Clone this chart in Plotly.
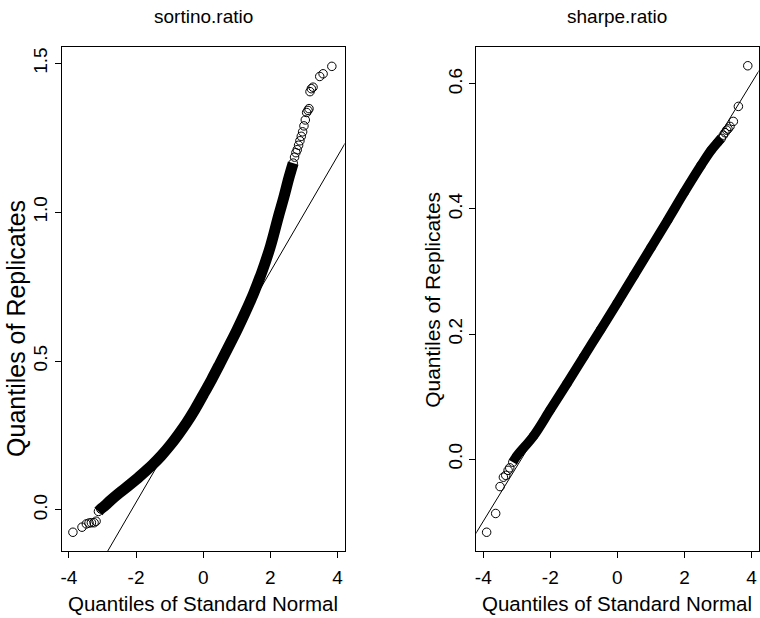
import plotly.graph_objects as go
from plotly.subplots import make_subplots

# ---------------- data ----------------
panel_titles = ["sortino.ratio", "sharpe.ratio"]
x_label = "Quantiles of Standard Normal"
y_label = "Quantiles of Replicates"

x_tick_vals = [-4, -2, 0, 2, 4]
x_tick_text = ["-4", "-2", "0", "2", "4"]
sortino_y_ticks = [0.0, 0.5, 1.0, 1.5]
sortino_y_text = ["0.0", "0.5", "1.0", "1.5"]
sharpe_y_ticks = [0.0, 0.2, 0.4, 0.6]
sharpe_y_text = ["0.0", "0.2", "0.4", "0.6"]

# sortino.ratio : sparse lower tail, dense body, sparse upper tail
sortino_low_x = [-3.88, -3.61, -3.48, -3.40, -3.33, -3.25, -3.19]
sortino_low_y = [-0.075, -0.058, -0.047, -0.044, -0.043, -0.043, -0.038]
sortino_band_x = [-3.12, -3.05, -2.9, -2.75, -2.5, -2.25, -2.0, -1.75, -1.5, -1.25,
                  -1.0, -0.75, -0.5, -0.25, 0.0, 0.25, 0.5, 0.75, 1.0, 1.25,
                  1.5, 1.75, 2.0, 2.25, 2.4, 2.55, 2.68]
sortino_band_y = [-0.005, 0.003, 0.017, 0.033, 0.057, 0.079, 0.102, 0.127, 0.153, 0.182,
                  0.215, 0.252, 0.292, 0.337, 0.387, 0.438, 0.492, 0.547, 0.603, 0.663,
                  0.727, 0.800, 0.885, 0.99, 1.05, 1.115, 1.165]
sortino_high_x = [2.72, 2.76, 2.80, 2.84, 2.88, 2.92, 2.96, 3.00, 3.04, 3.08,
                  3.12, 3.15, 3.18, 3.22, 3.27, 3.47, 3.57, 3.83]
sortino_high_y = [1.185, 1.20, 1.21, 1.225, 1.24, 1.255, 1.27, 1.29, 1.31, 1.335,
                  1.342, 1.348, 1.405, 1.415, 1.42, 1.456, 1.465, 1.49]
sortino_qqline = (0.413, 0.1938)   # intercept, slope

# sharpe.ratio
sharpe_low_x = [-3.90, -3.63, -3.50, -3.40, -3.33, -3.26, -3.21]
sharpe_low_y = [-0.117, -0.087, -0.044, -0.029, -0.026, -0.018, -0.014]
sharpe_band_x = [-3.12, -3.0, -2.5, -2.0, -1.5, -1.0, -0.5, 0.0, 0.5, 1.0,
                 1.5, 2.0, 2.5, 2.8, 3.0, 3.1]
sharpe_band_y = [-0.005, 0.005, 0.037, 0.079, 0.121, 0.164, 0.207, 0.25, 0.294, 0.338,
                 0.382, 0.427, 0.47, 0.494, 0.507, 0.513]
sharpe_high_x = [3.16, 3.21, 3.26, 3.30, 3.36, 3.46, 3.61, 3.89]
sharpe_high_y = [0.518, 0.522, 0.526, 0.528, 0.532, 0.540, 0.564, 0.629]
sharpe_qqline = (0.251, 0.0876)

x_range = [-4.21, 4.21]
sortino_y_range = [-0.138, 1.555]
sharpe_y_range = [-0.147, 0.659]

# ---------------- figure ----------------
W, H = 760, 618
FONT = "Liberation Sans, Arial, sans-serif"

fig = make_subplots(rows=1, cols=2)

marker = dict(symbol="circle-open", size=8.5, color="black", line=dict(width=1, color="black"))

panels = [
    (1, sortino_low_x, sortino_low_y, sortino_band_x, sortino_band_y,
     sortino_high_x, sortino_high_y, sortino_qqline, 11),
    (2, sharpe_low_x, sharpe_low_y, sharpe_band_x, sharpe_band_y,
     sharpe_high_x, sharpe_high_y, sharpe_qqline, 9.5),
]
for col, lx, ly, bx, by, hx, hy, (a, b), bw in panels:
    fig.add_trace(go.Scatter(x=bx, y=by, mode="lines+markers",
                             line=dict(color="black", width=bw, shape="spline", smoothing=1.0),
                             marker=marker, showlegend=False, hoverinfo="skip"), row=1, col=col)
    fig.add_trace(go.Scatter(x=lx + hx, y=ly + hy, mode="markers", marker=marker,
                             showlegend=False), row=1, col=col)
    lxs = [x_range[0] - 0.5, x_range[1] + 0.5]
    fig.add_trace(go.Scatter(x=lxs, y=[a + b * v for v in lxs], mode="lines",
                             line=dict(color="black", width=1),
                             showlegend=False, hoverinfo="skip"), row=1, col=col)

ytop = 1 - 47 / H
ybot = 1 - 551 / H
axis_common = dict(showline=True, mirror=True, linecolor="black", linewidth=1.2,
                   ticks="outside", ticklen=6, tickwidth=1, tickcolor="black",
                   showgrid=False, zeroline=False,
                   tickfont=dict(family=FONT, size=19, color="black"))

fig.update_layout(
    xaxis=dict(domain=[61 / W, 344.5 / W], range=x_range, tickvals=x_tick_vals,
               ticktext=x_tick_text, ticklabelstandoff=3, **axis_common),
    xaxis2=dict(domain=[476.5 / W, 759.5 / W], range=x_range, tickvals=x_tick_vals,
                ticktext=x_tick_text, ticklabelstandoff=3, **axis_common),
    yaxis=dict(domain=[ybot, ytop], range=sortino_y_range, tickvals=sortino_y_ticks,
               ticktext=sortino_y_text, tickangle=-90, ticklabelstandoff=0, **axis_common),
    yaxis2=dict(domain=[ybot, ytop], range=sharpe_y_range, tickvals=sharpe_y_ticks,
                ticktext=sharpe_y_text, tickangle=-90, ticklabelstandoff=0, **axis_common),
    width=W, height=H, margin=dict(l=0, r=0, t=0, b=0),
    paper_bgcolor="white", plot_bgcolor="white",
    font=dict(family=FONT, color="black"),
)

centers = [(61 + 344.5) / 2 / W, (476.5 + 759.5) / 2 / W]
ylab_x = [15 / W, 432 / W]
ylab_y = [1 - 328 / H, 1 - 300 / H]
ylab_size = [25, 21]
for i in range(2):
    fig.add_annotation(text=panel_titles[i], x=centers[i], y=1 - 17 / H, xref="paper", yref="paper",
                       showarrow=False, xanchor="center", yanchor="middle",
                       font=dict(family=FONT, size=19, color="black"))
    fig.add_annotation(text=x_label, x=centers[i], y=1 - 603 / H, xref="paper", yref="paper",
                       showarrow=False, xanchor="center", yanchor="middle",
                       font=dict(family=FONT, size=20.5, color="black"))
    fig.add_annotation(text=y_label, x=ylab_x[i], y=ylab_y[i], xref="paper", yref="paper",
                       showarrow=False, xanchor="center", yanchor="middle", textangle=-90,
                       font=dict(family=FONT, size=ylab_size[i], color="black"))

fig.write_html("out.html", config={"displayModeBar": False},
               post_script="document.body.style.margin='0px';")
